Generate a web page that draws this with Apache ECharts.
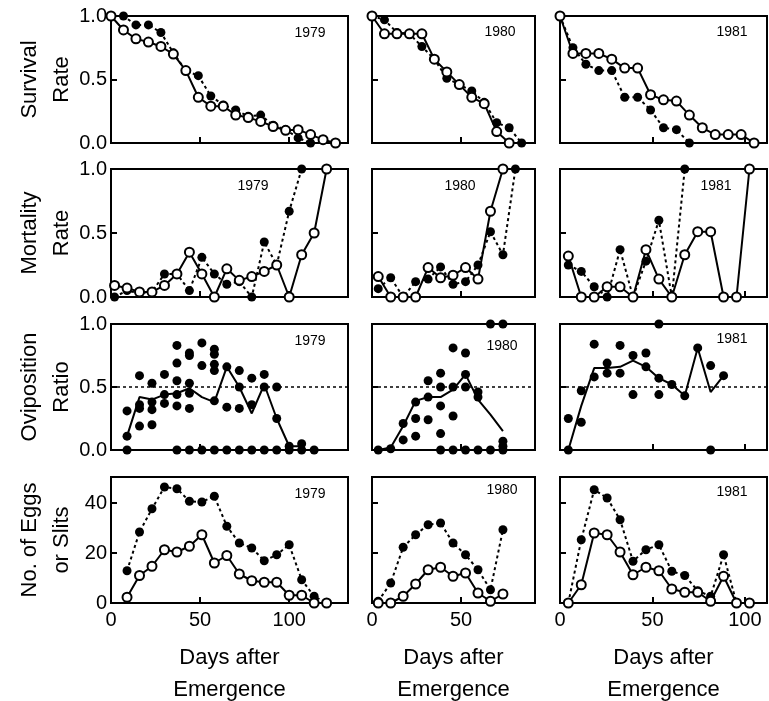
<!DOCTYPE html>
<html>
<head>
<meta charset="utf-8">
<script src="https://cdn.jsdelivr.net/npm/echarts@6/dist/echarts.min.js"></script>
<style>
  html, body { margin: 0; padding: 0; background: #fff; }
  #chart { width: 769px; height: 701px; }
</style>
</head>
<body>
<div id="chart"></div>
<script>
// 年份与行标题
const years = ['1979', '1980', '1981'];
const rowTitles = ['Survival\nRate', 'Mortality\nRate', 'Oviposition\nRatio', 'No. of Eggs\nor Slits'];
const bottomTitle = 'Days after\nEmergence';

// ---- 1979 ----
const surv79Days = [0, 7, 14, 21, 28, 35, 42, 49, 56, 63, 70, 77, 84, 91, 98, 105, 112, 119, 126];
const surv79Open = [1.0, 0.89, 0.82, 0.795, 0.76, 0.70, 0.57, 0.36, 0.29, 0.29, 0.22, 0.20, 0.17, 0.13, 0.10, 0.105, 0.066, 0.026, 0.0];
const surv79Filled = [1.0, 1.0, 0.93, 0.93, 0.87, 0.71, 0.57, 0.53, 0.37, 0.30, 0.26, 0.21, 0.22, 0.14, 0.105, 0.04, 0.0];
const days79 = [2, 9, 16, 23, 30, 37, 44, 51, 58, 65, 72, 79, 86, 93, 100, 107, 114, 121];
const mort79Open = [0.09, 0.07, 0.04, 0.04, 0.09, 0.18, 0.35, 0.18, 0.0, 0.22, 0.13, 0.16, 0.20, 0.25, 0.0, 0.33, 0.50, 1.0];
const mort79Filled = [0.0, 0.05, 0.03, 0.04, 0.18, 0.18, 0.05, 0.31, 0.18, 0.10, 0.12, 0.0, 0.43, 0.25, 0.67, 1.0];
const ovi79Days = [9, 16, 23, 30, 37, 44, 51, 58, 65, 72, 79, 86, 93, 100, 107, 114];
const ovi79Dots = [
  [0, 0.11, 0.31], [0.59, 0.36, 0.33, 0.19], [0.53, 0.38, 0.32, 0.20], [0.60, 0.44, 0.37],
  [0.83, 0.69, 0.55, 0.44, 0.35, 0], [0.77, 0.75, 0.53, 0.45, 0.33, 0], [0.85, 0.67, 0],
  [0.80, 0.76, 0.68, 0.63, 0.39, 0], [0.66, 0.34, 0], [0.63, 0.50, 0.33, 0], [0.57, 0.36, 0],
  [0.60, 0.50, 0], [0.50, 0.25, 0], [0.03, 0], [0.05, 0], [0]
];
const ovi79Mean = [0.11, 0.42, 0.40, 0.44, 0.45, 0.49, 0.42, 0.38, 0.66, 0.50, 0.29, 0.52, 0.25, 0.03, 0.03];
const eggs79Days = [9, 16, 23, 30, 37, 44, 51, 58, 65, 72, 79, 86, 93, 100, 107, 114, 121];
const eggs79Filled = [12.9, 28.4, 37.7, 46.4, 45.7, 40.7, 40.4, 42.7, 30.7, 24, 22, 16.9, 19.3, 23.3, 9.3, 2.7, 0];
const eggs79Open = [2.3, 11, 14.7, 21.3, 20.4, 22.7, 27.3, 16, 19, 11.6, 8.9, 8.3, 8.3, 3.1, 3.1, 0, 0];

// ---- 1980 ----
const surv80Days = [0, 7, 14, 21, 28, 35, 42, 49, 56, 63, 70, 77, 84];
const surv80Open = [1.0, 0.86, 0.86, 0.86, 0.86, 0.66, 0.56, 0.46, 0.36, 0.31, 0.09, 0.0];
const surv80Filled = [1.0, 0.97, 0.87, 0.86, 0.76, 0.66, 0.51, 0.46, 0.41, 0.32, 0.16, 0.12, 0.0];
const days80 = [3.5, 10.5, 17.5, 24.5, 31.5, 38.5, 45.5, 52.5, 59.5, 66.5, 73.5, 80.5];
const mort80Open = [0.16, 0, 0, 0, 0.23, 0.15, 0.17, 0.23, 0.14, 0.67, 1.0];
const mort80Filled = [0.065, 0.15, 0.0, 0.12, 0.14, 0.235, 0.10, 0.12, 0.25, 0.51, 0.33, 1.0];
const ovi80Dots = [
  [0], [0.01], [0.21, 0.08], [0.38, 0.25, 0.11], [0.55, 0.42, 0.24], [0.61, 0.50, 0.35, 0.13, 0],
  [0.81, 0.50, 0.27, 0], [0.77, 0.60, 0.50, 0], [0.46, 0.42, 0], [1.0, 0], [1.0, 0.07, 0.03, 0]
];
const ovi80Mean = [0, 0.02, 0.19, 0.39, 0.42, 0.42, 0.48, 0.60, 0.40, 0.28, 0.15];
const eggs80Filled = [0.7, 8, 22.3, 27.3, 31.3, 32, 24, 19.3, 13.3, 5.3, 29.3];
const eggs80Open = [0, 0, 2.7, 7.6, 13.3, 14.3, 10.7, 12, 4, 0.7, 3.6];

// ---- 1981 ----
const surv81Days = [0, 7, 14, 21, 28, 35, 42, 49, 56, 63, 70, 77, 84, 91, 98, 105];
const surv81Open = [1.0, 0.705, 0.705, 0.705, 0.66, 0.59, 0.59, 0.38, 0.34, 0.33, 0.22, 0.12, 0.066, 0.066, 0.066, 0.0];
const surv81Filled = [1.0, 0.75, 0.62, 0.57, 0.57, 0.36, 0.36, 0.26, 0.12, 0.105, 0.0];
const days81 = [4.5, 11.5, 18.5, 25.5, 32.5, 39.5, 46.5, 53.5, 60.5, 67.5, 74.5, 81.5, 88.5, 95.5, 102.5];
const mort81Open = [0.32, 0, 0, 0.08, 0.08, 0, 0.37, 0.14, 0, 0.33, 0.51, 0.51, 0, 0, 1.0];
const mort81Filled = [0.25, 0.20, 0.08, 0, 0.37, 0, 0.28, 0.60, 0, 1.0];
const ovi81Dots = [
  [0.25, 0], [0.47, 0.22], [0.84, 0.58], [0.69, 0.61], [0.83, 0.61], [0.75, 0.44], [0.77, 0.66],
  [1.0, 0.57, 0.44], [0.52], [0.43], [0.81], [0.67, 0], [0.59]
];
const ovi81Mean = [0, 0.35, 0.65, 0.65, 0.66, 0.71, 0.66, 0.57, 0.52, 0.43, 0.81, 0.46, 0.59];
const eggs81Filled = [0, 25.3, 45.3, 42, 33.3, 16.7, 21.3, 23.3, 12.7, 11, 4.9, 2.7, 19.3, 0, 0];
const eggs81Open = [0, 7.3, 28, 27.3, 20.4, 11.3, 14.3, 12.9, 5.6, 4.3, 4.3, 0.7, 10.7, 0, 0];

// 布局
const colBox = [{ left: 111, width: 237, max: 133 }, { left: 372, width: 163, max: 91.5 }, { left: 560, width: 207, max: 112 }];
const rowBox = [{ top: 16, height: 127 }, { top: 169, height: 128 }, { top: 324, height: 126 }, { top: 477, height: 126 }];
// 年份标签位置 [行][列]
const yearPos = [
  [[310, 33], [500, 32], [732, 32]],
  [[253, 186], [460, 186], [716, 186]],
  [[310, 341], [502, 346], [732, 339]],
  [[310, 494], [502, 490], [732, 492]]
];
const FONT = '"Liberation Sans", Arial, sans-serif';

const pair = (days, vals) => vals.map((v, i) => [days[i], v]);
const dots = (days, lists) => lists.flatMap((l, i) => l.map(v => [days[i], v]));

const chart = echarts.init(document.getElementById('chart'));

const grids = [], xAxes = [], yAxes = [], series = [], graphics = [];

for (let r = 0; r < 4; r++) {
  for (let c = 0; c < 3; c++) {
    const idx = r * 3 + c;
    grids.push({
      left: colBox[c].left, width: colBox[c].width, top: rowBox[r].top, height: rowBox[r].height,
      show: true, borderColor: '#000', borderWidth: 2, backgroundColor: 'transparent'
    });
    xAxes.push({
      gridIndex: idx, type: 'value', min: 0, max: colBox[c].max, interval: 50,
      axisLine: { onZero: false, lineStyle: { color: '#000', width: 2 } },
      axisTick: { inside: true, length: 6, lineStyle: { color: '#000', width: 2 } },
      axisLabel: { show: r === 3, color: '#000', fontSize: 20, fontFamily: FONT, margin: 7,
        showMaxLabel: false },
      splitLine: { show: false }
    });
    yAxes.push({
      gridIndex: idx, type: 'value', min: 0, max: r === 3 ? 50.4 : 1, interval: r === 3 ? 20 : 0.5,
      axisLine: { lineStyle: { color: '#000', width: 2 } },
      axisTick: { inside: true, length: 6, lineStyle: { color: '#000', width: 2 } },
      axisLabel: { show: c === 0, color: '#000', fontSize: 20, fontFamily: FONT, margin: 4,
        showMaxLabel: r !== 3,
        formatter: v => r === 3 ? String(v) : v.toFixed(1) },
      splitLine: { show: false }
    });
    graphics.push({
      type: 'text', x: yearPos[r][c][0], y: yearPos[r][c][1],
      style: { text: years[c], font: '14px ' + FONT, fill: '#000', align: 'center', verticalAlign: 'middle' }
    });
  }
}

const openLine = (idx, data) => ({
  type: 'line', xAxisIndex: idx, yAxisIndex: idx, data, symbol: 'circle', symbolSize: 9,
  lineStyle: { color: '#000', width: 2 }, itemStyle: { color: '#fff', borderColor: '#000', borderWidth: 2 },
  z: 4, clip: false
});
const filledLine = (idx, data) => ({
  type: 'line', xAxisIndex: idx, yAxisIndex: idx, data, symbol: 'circle', symbolSize: 9,
  lineStyle: { color: '#000', width: 2, type: [3, 3] }, itemStyle: { color: '#000' },
  z: 3, clip: false
});
const scatter = (idx, data) => ({
  type: 'scatter', xAxisIndex: idx, yAxisIndex: idx, data, symbolSize: 9,
  itemStyle: { color: '#000', opacity: 1 }, z: 3, clip: false,
  markLine: {
    silent: true, symbol: 'none', label: { show: false },
    lineStyle: { color: '#000', width: 1.5, type: [3, 3] }, data: [{ yAxis: 0.5 }]
  }
});
const meanLine = (idx, data) => ({
  type: 'line', xAxisIndex: idx, yAxisIndex: idx, data, symbol: 'none',
  lineStyle: { color: '#000', width: 2 }, z: 2
});

// 存活率
series.push(filledLine(0, pair(surv79Days, surv79Filled)), openLine(0, pair(surv79Days, surv79Open)));
series.push(filledLine(1, pair(surv80Days, surv80Filled)), openLine(1, pair(surv80Days, surv80Open)));
series.push(filledLine(2, pair(surv81Days, surv81Filled)), openLine(2, pair(surv81Days, surv81Open)));
// 死亡率
series.push(filledLine(3, pair(days79, mort79Filled)), openLine(3, pair(days79, mort79Open)));
series.push(filledLine(4, pair(days80, mort80Filled)), openLine(4, pair(days80, mort80Open)));
series.push(filledLine(5, pair(days81, mort81Filled)), openLine(5, pair(days81, mort81Open)));
// 产卵比
series.push(scatter(6, dots(ovi79Days, ovi79Dots)), meanLine(6, pair(ovi79Days, ovi79Mean)));
series.push(scatter(7, dots(days80, ovi80Dots)), meanLine(7, pair(days80, ovi80Mean)));
series.push(scatter(8, dots(days81, ovi81Dots)), meanLine(8, pair(days81, ovi81Mean)));
// 卵数
series.push(filledLine(9, pair(eggs79Days, eggs79Filled)), openLine(9, pair(eggs79Days, eggs79Open)));
series.push(filledLine(10, pair(days80, eggs80Filled)), openLine(10, pair(days80, eggs80Open)));
series.push(filledLine(11, pair(days81, eggs81Filled)), openLine(11, pair(days81, eggs81Open)));

// 行标题（旋转）
rowTitles.forEach((t, r) => {
  graphics.push({
    type: 'text', x: 46, y: rowBox[r].top + rowBox[r].height / 2, rotation: Math.PI / 2,
    style: { text: t, font: '22px ' + FONT, fill: '#000', align: 'center', verticalAlign: 'middle', lineHeight: 32 }
  });
});
// 底部标题
colBox.forEach(b => {
  graphics.push({
    type: 'text', x: b.left + b.width / 2, y: 674,
    style: { text: bottomTitle, font: '22px ' + FONT, fill: '#000', align: 'center', verticalAlign: 'middle', lineHeight: 32 }
  });
});

chart.setOption({
  animation: false,
  grid: grids,
  xAxis: xAxes,
  yAxis: yAxes,
  series: series,
  graphic: graphics
});
</script>
</body>
</html>
